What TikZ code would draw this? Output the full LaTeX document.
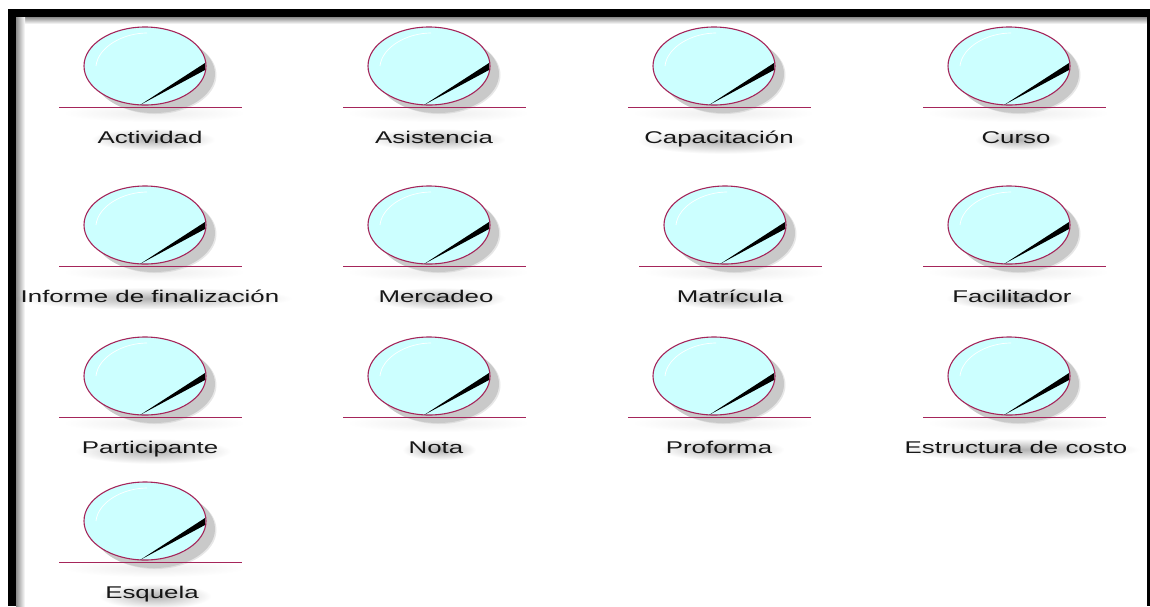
\documentclass[tikz,border=0pt]{standalone}
\usepackage{fontspec}
\setmainfont{Liberation Sans}
\usepackage{tikz}
\usetikzlibrary{shapes.geometric,calc,fadings}
\definecolor{entline}{HTML}{A5255A}
\definecolor{entfill}{HTML}{CCFFFF}
\definecolor{entshadow}{HTML}{C9C9C9}
\tikzfading[name=softblob,inner color=transparent!0,outer color=transparent!100]
\tikzset{
  enode/.style={ellipse,draw=entline,fill=entfill,line width=1.1pt,minimum width=122pt,minimum height=78pt,inner sep=0pt},
  sdw/.style={ellipse,fill=entshadow,minimum width=122pt,minimum height=78pt,inner sep=0pt},
  ebase/.style={draw=entline,line width=0.9pt},
  elabel/.style={font=\fontsize{17}{20}\selectfont,text=black!90,xscale=1.52,inner sep=0pt,anchor=base}
}
% entity: name, x of circle, y of base line, label x, label
\newcommand{\entity}[5]{
  \begin{scope}[shift={(#2,#3)}]
    \fill[black,opacity=0.07,path fading=softblob] (-82,-3) rectangle (100,15);
    \node[sdw,opacity=0.45] (#1s2) at (10.5,-32) {};
    \node[sdw] (#1s) at (9,-33) {};
    \node[enode] (#1) at (0,-41) {};
    \draw[white,line width=0.7pt] (-49,-41) .. controls (-47,-60) and (-22,-74) .. (2,-74);
    \fill[black] (-5,-2) -- (60,-44) -- (60,-37) -- cycle;
    \coordinate (#1a) at (-86,0);
    \coordinate (#1b) at (97,0);
    \draw[ebase] (#1a) -- (#1b);
  \end{scope}
  \node[elabel] (#1t) at (#4,#3+36) {#5};
  \fill[black,opacity=0.3,path fading=softblob] ($(#1t.south west)+(-6,7)$) rectangle ($(#1t.north east)+(12,-2)$);
}
\begin{document}
\begin{tikzpicture}[x=1pt,y=-1pt]
\useasboundingbox (0,0) rectangle (1150,606);
% frame
\shade[top color=black!45,bottom color=white] (16,17) rectangle (1147,24);
\shade[left color=black!45,right color=white] (16,17) rectangle (25,606);
\fill[black] (8,9) rectangle (1150,17);
\fill[black] (8,9) rectangle (16,606);
\fill[black] (1147,9) rectangle (1150,606);
% row 1
\entity{actividad}{145}{107}{150}{Actividad}
\entity{asistencia}{429}{107}{434}{Asistencia}
\entity{capacitacion}{714}{107}{719}{Capacitación}
\entity{curso}{1009}{107}{1016}{Curso}
% row 2
\entity{informe}{145}{266}{150}{Informe de finalización}
\entity{mercadeo}{429}{266}{436}{Mercadeo}
\entity{matricula}{725}{266}{730}{Matrícula}
\entity{facilitador}{1009}{266}{1012}{Facilitador}
% row 3
\entity{participante}{145}{417}{150}{Participante}
\entity{nota}{429}{417}{436}{Nota}
\entity{proforma}{714}{417}{719}{Proforma}
\entity{estructura}{1009}{417}{1016}{Estructura de costo}
% row 4
\entity{esquela}{145}{562}{152}{Esquela}
\end{tikzpicture}
\end{document}
